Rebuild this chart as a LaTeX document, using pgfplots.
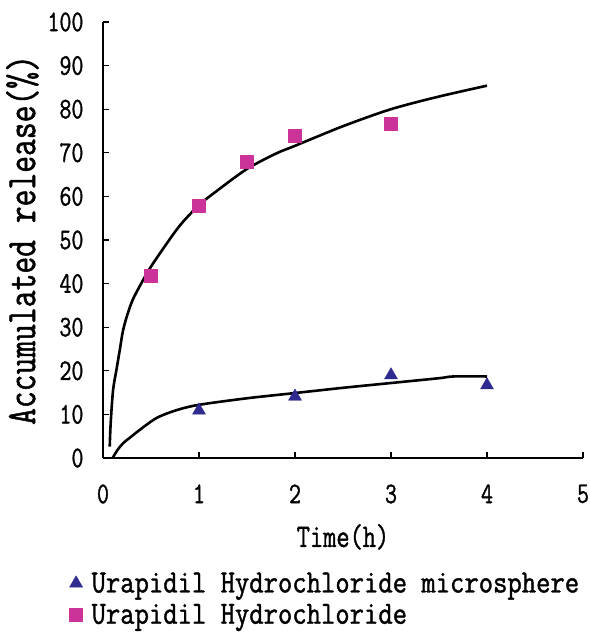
\documentclass[border=0pt]{standalone}
\usepackage{pgfplots}
\pgfplotsset{compat=1.18}
\usepackage{fontspec}
\setmainfont{Latin Modern Mono}[FakeStretch=0.78, FakeBold=1.2]
\newfontfamily\legfont{Latin Modern Mono}[FakeStretch=0.86, FakeBold=1.2]
\definecolor{pinkm}{HTML}{CC3399}
\definecolor{navyb}{HTML}{2E2A8F}
\begin{document}
\begin{tikzpicture}
\path[use as bounding box] (0,0) rectangle (590bp,635bp);
\begin{axis}[
  at={(103bp,177bp)}, anchor=south west,
  scale only axis, width=480bp, height=436bp,
  xmin=0, xmax=5, ymin=0, ymax=100,
  axis lines=left, axis line style={line width=1.5bp, -},
  xtick={0,1,2,3,4,5}, ytick={0,10,...,100},
  tick align=inside, major tick length=6bp,
  tick style={line width=1.2bp, black},
  /pgf/number format/assume math mode=true,
  ticklabel style={font=\fontsize{30}{30}\selectfont},
  yticklabel style={xshift=-16bp},
  xticklabel style={yshift=-23bp},
  xlabel={Time(h)},
  xlabel style={font=\fontsize{33}{33}\selectfont, at={(axis description cs:0.5,-0.181)}, anchor=center},
  ylabel={Accumulated release(\%)},
  ylabel style={font=\fontsize{42}{42}\selectfont, at={(axis description cs:-0.168,0.50)}, anchor=center},
  legend style={at={(axis description cs:-0.070,-0.258)}, anchor=north west, draw=none, fill=none,
    font=\legfont\fontsize{32.5}{32.5}\selectfont, row sep=6bp, inner sep=0bp,
    /tikz/every odd column/.append style={column sep=7bp}},
  legend cell align=left,
  clip=false,
]
% fitted curves
\addplot[black, line width=2.6bp, smooth, forget plot] coordinates {
 (0.07,2.6) (0.08,8) (0.105,15.6) (0.14,20.2) (0.175,24.8) (0.21,29.4) (0.26,33.3)
 (0.31,36.3) (0.38,39.3) (0.48,43.2) (0.62,47.8) (0.8,53.3) (1.0,58) (1.2,61.5)
 (1.5,66.3) (1.8,69.8) (2.0,71.6) (2.5,76.1) (3.0,80) (3.5,82.9) (4.0,85.4)
};
\addplot[black, line width=2.6bp, smooth, forget plot] coordinates {
 (0.1,0) (0.15,1.8) (0.21,3.4) (0.3,5) (0.38,6.4) (0.56,9.2) (0.77,11) (1.0,12.2)
 (1.5,13.7) (2.0,14.9) (2.5,16.1) (3.0,17.2) (3.5,18.3) (3.65,18.7) (4.0,18.7)
};
% data
\addplot[only marks, mark=triangle*, mark size=7.5bp, navyb, mark options={fill=navyb, draw=navyb}] coordinates {
 (1,10.9) (2,14.1) (3,19) (4,16.7)
};
\addlegendentry{Urapidil Hydrochloride microsphere}
\addplot[only marks, mark=square*, mark size=6.5bp, pinkm, mark options={fill=pinkm, draw=pinkm}] coordinates {
 (0.5,41.8) (1,57.8) (1.5,68) (2,74) (3,76.7)
};
\addlegendentry{Urapidil Hydrochloride}
\end{axis}
\end{tikzpicture}
\end{document}
